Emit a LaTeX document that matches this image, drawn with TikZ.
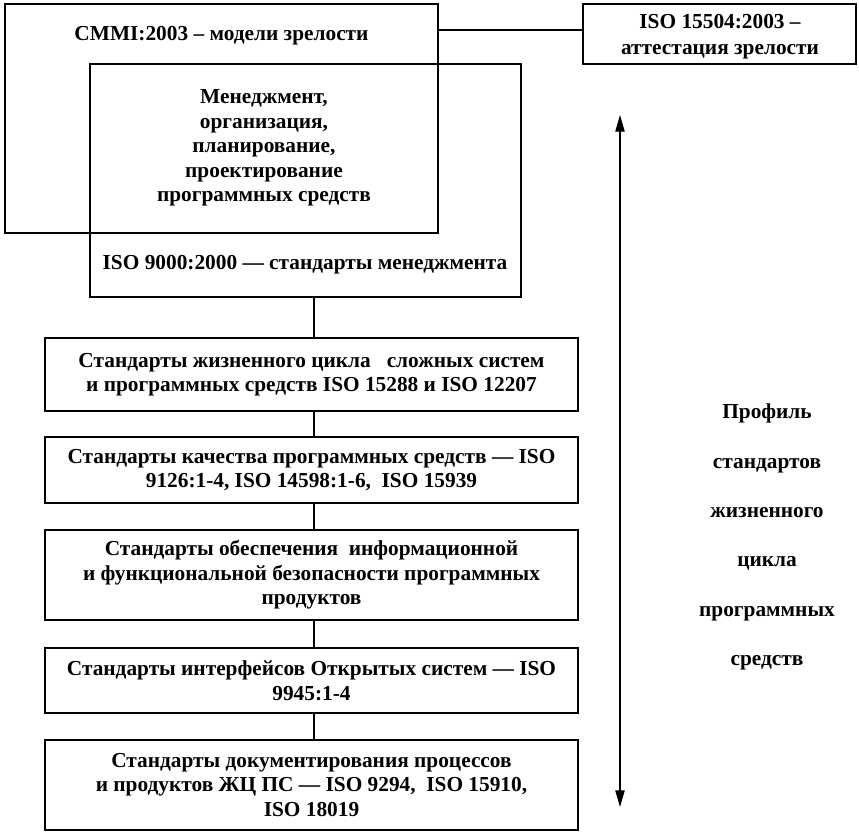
\documentclass[tikz,border=0pt]{standalone}
\usepackage{fontspec}
\setmainfont{Liberation Serif}
\usetikzlibrary{arrows.meta}
\tikzset{
  frame/.style={draw, line width=1.9pt, inner sep=0pt},
  stdbox/.style={frame, align=center, font=\fontsize{16}{18.4}\selectfont\bfseries,
    minimum width=399.75pt},
  caption/.style={inner sep=0pt, align=center, font=\fontsize{16}{18.4}\selectfont\bfseries},
  link/.style={draw, line width=0.9pt},
  axis/.style={draw, line width=0.9pt, {Triangle[length=12.5pt,width=7pt]}-{Triangle[length=12.5pt,width=7pt]}}
}
\begin{document}
\begin{tikzpicture}[x=0.75pt,y=-0.75pt]
\useasboundingbox (0,0) rectangle (859,834);

% maturity model frame and the management frame overlapping it
\node[frame, minimum width=324.75pt, minimum height=171.75pt] (cmmi) at (221.5,118.5) {};
\node[frame, minimum width=323.25pt, minimum height=174.75pt] (mgmt) at (305.5,180.5) {};
\node[caption] (cmmilbl) at (221.5,36) {CMMI:2003 – модели зрелости};
\node[caption] (corelbl) at (264,148) {Менеджмент,\\организация,\\планирование,\\проектирование\\программных средств};
\node[caption] (isolbl) at (305,265) {ISO 9000:2000 — стандарты менеджмента};

% maturity assessment
\node[frame, align=center, font=\fontsize{16}{19.5}\selectfont\bfseries,
      minimum width=204.75pt, minimum height=45pt] (assess) at (719.5,34) {};
\node[caption, font=\fontsize{16}{19.5}\selectfont\bfseries] (assesslbl) at (720,37)
      {ISO 15504:2003 –\\аттестация зрелости};
\coordinate (hl) at (0,30);
\path[link] (cmmi.east |- hl) -- (assess.west |- hl);

% stack of standards
\node[stdbox, minimum height=54.75pt] (b1) at (311.5,374.5)
  {Стандарты жизненного цикла~~~сложных систем\\и программных средств ISO 15288 и ISO 12207};
\node[stdbox, minimum height=49.5pt] (b2) at (311.5,470)
  {Стандарты качества программных средств — ISO\\9126:1-4, ISO 14598:1-6,~~ISO 15939};
\node[stdbox, minimum height=67.5pt] (b3) at (311.5,575)
  {Стандарты обеспечения~~информационной\\и функциональной безопасности программных\\продуктов};
\node[stdbox, minimum height=48.75pt] (b4) at (311.5,680.5)
  {Стандарты интерфейсов Открытых систем — ISO\\9945:1-4};
\node[stdbox, minimum height=67.5pt] (b5) at (311.5,785)
  {Стандарты документирования процессов\\и продуктов ЖЦ ПС — ISO 9294,~~ISO 15910,\\ISO 18019};

\coordinate (spine) at (314,0);
\path[link] (mgmt.south -| spine) -- (b1.north -| spine);
\path[link] (b1.south -| spine) -- (b2.north -| spine);
\path[link] (b2.south -| spine) -- (b3.north -| spine);
\path[link] (b3.south -| spine) -- (b4.north -| spine);
\path[link] (b4.south -| spine) -- (b5.north -| spine);

% profile axis
\coordinate (atop) at (620,115);
\coordinate (abot) at (620,807);
\path[axis] (atop) -- (abot);
\node[caption, font=\fontsize{16}{37}\selectfont\bfseries] (profile) at (767,537)
  {Профиль\\стандартов\\жизненного\\цикла\\программных\\средств};
\end{tikzpicture}
\end{document}
